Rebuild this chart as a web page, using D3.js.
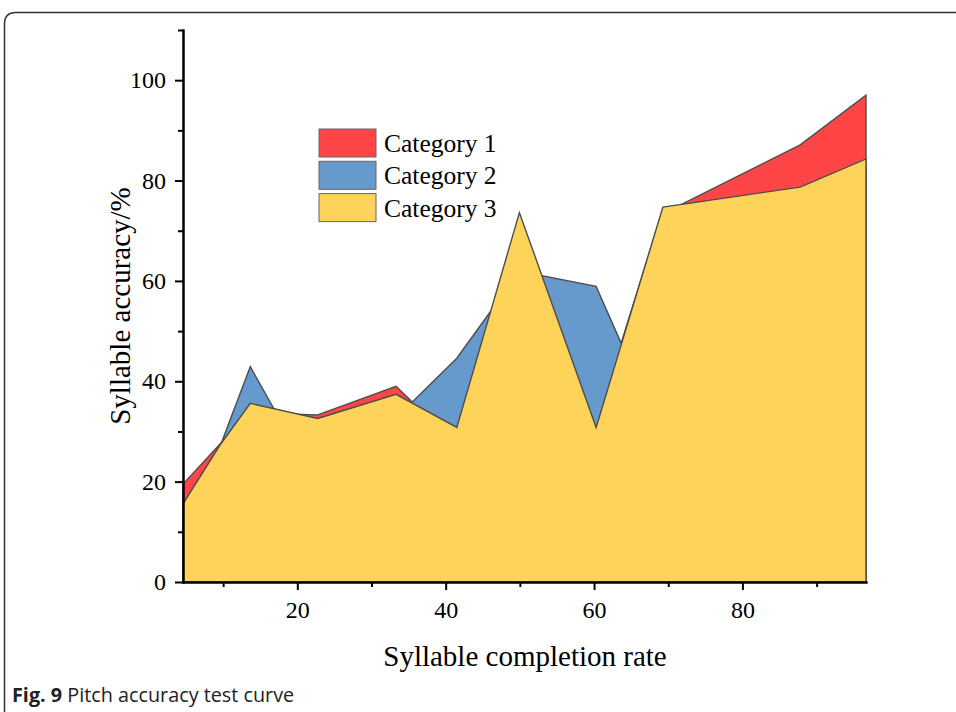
<!DOCTYPE html>
<html>
<head>
<meta charset="utf-8">
<script src="https://cdn.jsdelivr.net/npm/d3@7"></script>
<style>
  body { margin: 0; background: #fff; }
  svg text { fill: #000; }
  .tick text { font-family: "Liberation Serif", "Times New Roman", serif; font-size: 24px; }
  .axis path, .axis line { stroke: #000; stroke-width: 2; }
</style>
</head>
<body>
<svg width="956" height="712"></svg>
<script>
// x positions of the vertices (syllable completion rate)
const rates = [4.59, 9.58, 13.66, 22.75, 33.31, 41.5, 49.94, 60.28, 63.65, 69.28, 87.79, 96.66];
const category1 = [19.5, 27.5, 33.7, 33.3, 39.0, 27.3, 50.0, 35.0, 44.0, 73.4, 87.1, 97.0];
const category2 = [14.0, 27.0, 42.9, 19.0, 32.7, 44.6, 61.9, 58.9, 47.6, 74.3, 77.0, 82.0];
const category3 = [15.55, 27.3, 35.6, 32.6, 37.4, 30.8, 73.6, 30.8, 47.2, 74.7, 78.7, 84.3];
const seriesNames = ["Category 1", "Category 2", "Category 3"];
const seriesColors = ["#ff4545", "#6699cc", "#fed35a"];
const xMajor = [20, 40, 60, 80];
const xMinor = [10, 30, 50, 70, 90];
const yMajor = [0, 20, 40, 60, 80, 100];
const yMinor = [10, 30, 50, 70, 90, 110];

const svg = d3.select("svg");

// figure frame
svg.append("path")
  .attr("d", "M4.5,712 L4.5,24 Q4.5,12.5 16,12.5 L956,12.5")
  .attr("fill", "none")
  .attr("stroke", "#333")
  .attr("stroke-width", 1.5);

const x = d3.scaleLinear().domain([rates[0], rates[rates.length - 1]]).range([183, 866]);
const y = d3.scaleLinear().domain([0, 110]).range([582, 30]);

const area = d3.area()
  .x((d, i) => x(rates[i]))
  .y0(y(0))
  .y1(d => y(d));

[category1, category2, category3].forEach((s, k) => {
  svg.append("path")
    .attr("d", area(s))
    .attr("fill", seriesColors[k])
    .attr("stroke", "#4d4d4d")
    .attr("stroke-width", 1.4)
    .attr("stroke-linejoin", "miter");
});

// axes
svg.append("g")
  .attr("class", "axis")
  .attr("transform", "translate(0,582)")
  .call(d3.axisBottom(x).tickValues(xMinor).tickSize(5).tickSizeOuter(0).tickFormat(""));
svg.append("g")
  .attr("class", "axis")
  .attr("transform", "translate(0,582)")
  .call(d3.axisBottom(x).tickValues(xMajor).tickSize(8).tickSizeOuter(0).tickPadding(11));

svg.append("g")
  .attr("class", "axis")
  .attr("transform", "translate(183,0)")
  .call(d3.axisLeft(y).tickValues(yMinor).tickSize(5).tickSizeOuter(0).tickFormat(""));
svg.append("g")
  .attr("class", "axis")
  .attr("transform", "translate(183,0)")
  .call(d3.axisLeft(y).tickValues(yMajor).tickSize(8).tickSizeOuter(0).tickPadding(9));

svg.selectAll(".axis .domain").attr("stroke-linecap", "square");

// axis titles
svg.append("text")
  .attr("x", 525)
  .attr("y", 666)
  .attr("text-anchor", "middle")
  .style("font-family", "Liberation Serif, serif")
  .style("font-size", "29px")
  .text("Syllable completion rate");

svg.append("text")
  .attr("transform", "translate(130,306) rotate(-90)")
  .attr("text-anchor", "middle")
  .style("font-family", "Liberation Serif, serif")
  .style("font-size", "29px")
  .text("Syllable accuracy/%");

// legend
const legend = svg.append("g").attr("transform", "translate(319,129)");
seriesNames.forEach((name, i) => {
  legend.append("rect")
    .attr("x", 0)
    .attr("y", i * 32.3)
    .attr("width", 57)
    .attr("height", 28)
    .attr("fill", seriesColors[i])
    .attr("stroke", "#666")
    .attr("stroke-width", 1);
  legend.append("text")
    .attr("x", 65)
    .attr("y", i * 32.3 + 23)
    .style("font-family", "Liberation Serif, serif")
    .style("font-size", "25.5px")
    .text(name);
});

// caption
const cap = svg.append("text")
  .attr("x", 12)
  .attr("y", 702)
  .style("font-family", "Open Sans, sans-serif")
  .style("font-size", "19.8px")
  .style("fill", "#222");
cap.append("tspan").style("font-weight", "bold").text("Fig. 9");
cap.append("tspan").text(" Pitch accuracy test curve");
</script>
</body>
</html>
